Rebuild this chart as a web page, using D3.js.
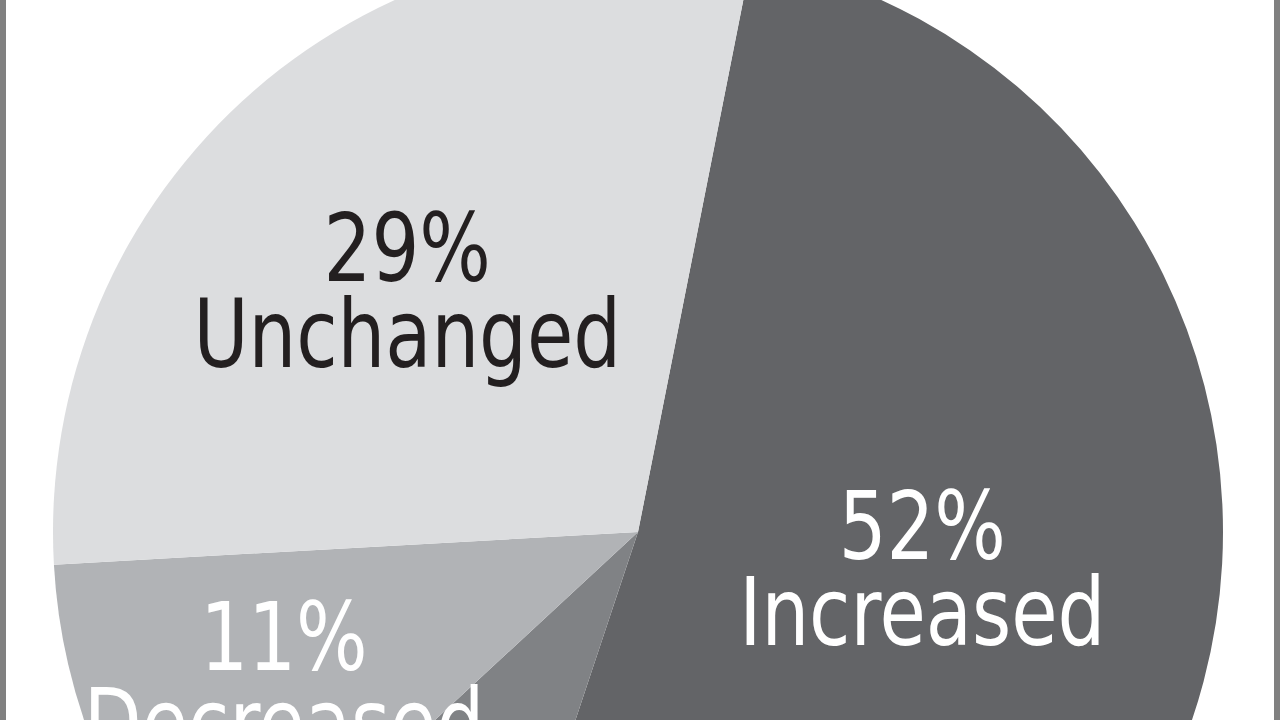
<!DOCTYPE html>
<html>
<head>
<meta charset="utf-8">
<script src="https://cdn.jsdelivr.net/npm/d3@7"></script>
<style>
  html, body { margin: 0; padding: 0; background: #fff; overflow: hidden; }
  text { font-family: "Liberation Sans Narrow", "Arial Narrow", "DejaVu Sans Condensed", sans-serif; }
</style>
</head>
<body>
<div id="chart-area"></div>
<script>

// slices, clockwise starting from the top boundary
var categories = ["Increased", "Other", "Decreased", "Unchanged"]
var values = [52, 8, 11, 29]
var labels = ["Increased", "", "Decreased", "Unchanged"]

var colors = ["#636467", "#808285", "#b1b3b6", "#dcdddf"]
var textColors = ["#ffffff", "#ffffff", "#ffffff", "#231f20"]

// label placement: fraction of radius, angle shift from slice middle (deg)
var labelRadius = [0.49, 0, 0.656, 0.57]
var labelShift = [-7.4, 0, 0.3, -2.8]

var width = 1280,
    height = 720

var cx = 638,
    cy = 532,
    radius = 585

var startDeg = 11.2

var data = categories.map(function(c, i) {
  return { category: c, value: values[i], label: labels[i], i: i }
})

var svg = d3.select("#chart-area").append("svg")
    .attr("width", width)
    .attr("height", height)

var g = svg.append("g")
    .attr("transform", "translate(" + cx + "," + cy + ")")

var pie = d3.pie()
  .sort(null)
  .value(function(d) { return d.value })
  .startAngle(startDeg * Math.PI / 180)
  .endAngle(startDeg * Math.PI / 180 + 2 * Math.PI)

var arc = d3.arc()
  .innerRadius(0)
  .outerRadius(radius)

var arcs = pie(data)

g.selectAll("path")
  .data(arcs)
  .enter()
  .append("path")
    .attr("d", arc)
    .attr("fill", function(d) { return colors[d.data.i] })

var labelGroups = g.selectAll(".label")
  .data(arcs.filter(function(d) { return d.data.label !== "" }))
  .enter()
  .append("g")
    .attr("class", "label")
    .attr("transform", function(d) {
      var i = d.data.i
      var a = (d.startAngle + d.endAngle) / 2 + labelShift[i] * Math.PI / 180
      var r = labelRadius[i] * radius
      // font is wider than the original, squeeze it a bit
      return "translate(" + (Math.sin(a) * r) + "," + (-Math.cos(a) * r) + ") scale(0.89,1)"
    })

var txt = labelGroups.append("text")
  .attr("text-anchor", "middle")
  .attr("font-size", "94px")
  .attr("fill", function(d) { return textColors[d.data.i] })

txt.append("tspan")
  .attr("x", 0)
  .attr("y", -10)
  .text(function(d) { return d.data.value + "%" })

txt.append("tspan")
  .attr("x", 0)
  .attr("y", 76)
  .text(function(d) { return d.data.label })

// grey frame, only the sides show
svg.append("rect")
  .attr("x", 3)
  .attr("y", -20)
  .attr("width", width - 6)
  .attr("height", height + 40)
  .attr("fill", "none")
  .attr("stroke", "#808080")
  .attr("stroke-width", 6)

</script>
</body>
</html>
